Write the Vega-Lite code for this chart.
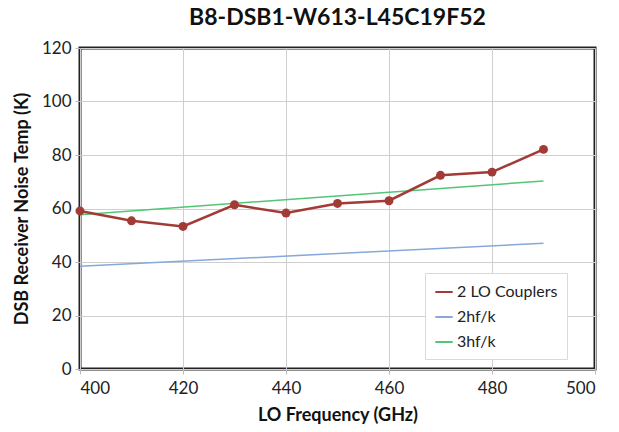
{
  "$schema": "https://vega.github.io/schema/vega-lite/v6.json",
  "width": 515,
  "height": 321,
  "autosize": "none",
  "padding": {"left": 80, "top": 48, "right": 24, "bottom": 63},
  "background": "white",
  "title": {"text": "B8-DSB1-W613-L45C19F52", "font": "Lato", "fontSize": 23, "fontWeight": "bold", "color": "#111", "anchor": "middle", "offset": 9},
  "config": {
    "view": {"stroke": "#222", "strokeWidth": 3},
    "axis": {"labelFont": "Lato", "labelFontSize": 17, "labelColor": "#222", "titleFont": "Lato", "titleFontSize": 18, "titleFontWeight": "bold", "titleColor": "#111", "gridColor": "#cfcfcf", "gridWidth": 1, "domain": false, "tickColor": "#bbb", "tickSize": 5}
  },
  "datasets": {
    "meas": [
      {"f": 400, "t": 59.1, "s": "2 LO Couplers"},
      {"f": 410, "t": 55.4, "s": "2 LO Couplers"},
      {"f": 420, "t": 53.3, "s": "2 LO Couplers"},
      {"f": 430, "t": 61.4, "s": "2 LO Couplers"},
      {"f": 440, "t": 58.3, "s": "2 LO Couplers"},
      {"f": 450, "t": 61.9, "s": "2 LO Couplers"},
      {"f": 460, "t": 62.9, "s": "2 LO Couplers"},
      {"f": 470, "t": 72.4, "s": "2 LO Couplers"},
      {"f": 480, "t": 73.6, "s": "2 LO Couplers"},
      {"f": 490, "t": 82.1, "s": "2 LO Couplers"}
    ],
    "lim": [
      {"f": 400, "t": 38.4, "s": "2hf/k"},
      {"f": 490, "t": 47.0, "s": "2hf/k"},
      {"f": 400, "t": 57.7, "s": "3hf/k"},
      {"f": 490, "t": 70.3, "s": "3hf/k"}
    ]
  },
  "encoding": {
    "x": {"field": "f", "type": "quantitative", "scale": {"domain": [400, 500], "nice": false}, "axis": {"values": [400, 420, 440, 460, 480, 500], "title": "LO Frequency (GHz)", "titlePadding": 10, "labelPadding": 6}},
    "y": {"field": "t", "type": "quantitative", "scale": {"domain": [0, 120], "nice": false}, "axis": {"values": [0, 20, 40, 60, 80, 100, 120], "title": "DSB Receiver Noise Temp (K)", "titlePadding": 10, "labelPadding": 4}},
    "color": {"field": "s", "type": "nominal", "scale": {"domain": ["2 LO Couplers", "2hf/k", "3hf/k"], "range": ["#A23B35", "#86A8DA", "#52C676"]},
      "legend": {"title": null, "orient": "none", "legendX": 345, "legendY": 225, "symbolType": "stroke", "symbolSize": 300, "symbolStrokeWidth": 2, "labelFont": "Lato", "labelFontSize": 16, "labelColor": "#222", "fillColor": "white", "strokeColor": "#dcdcc4", "padding": 9, "rowPadding": 7, "labelOffset": 3}}
  },
  "layer": [
    {"data": {"name": "lim"}, "mark": {"type": "line", "strokeWidth": 1.5}},
    {"data": {"name": "meas"}, "mark": {"type": "line", "strokeWidth": 2.5, "point": {"filled": true, "size": 80}}}
  ]
}
